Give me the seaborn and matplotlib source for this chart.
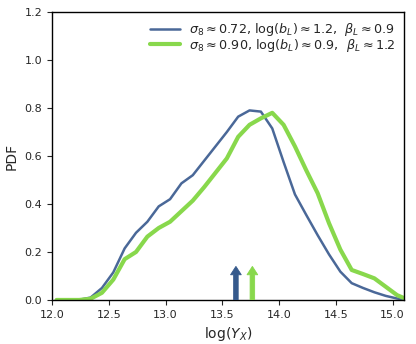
import numpy as np
import pandas as pd
import matplotlib.pyplot as plt
import seaborn as sns

# bin centres of log(Y_X)
log_yx = [12.04, 12.14, 12.24, 12.34, 12.44, 12.54, 12.64, 12.74, 12.84, 12.94,
          13.04, 13.14, 13.24, 13.34, 13.44, 13.54, 13.64, 13.74, 13.84, 13.94,
          14.04, 14.14, 14.24, 14.34, 14.44, 14.54, 14.64, 14.74, 14.84, 14.94,
          15.04, 15.14]

pdf_a = [0.0, 0.0, 0.001, 0.01, 0.05, 0.115, 0.215, 0.28, 0.326, 0.39,
         0.42, 0.486, 0.52, 0.58, 0.64, 0.70, 0.764, 0.79, 0.785, 0.715,
         0.575, 0.44, 0.354, 0.27, 0.19, 0.118, 0.07, 0.05, 0.032, 0.017,
         0.006, 0.0]

pdf_b = [0.0, 0.0, 0.0, 0.005, 0.03, 0.085, 0.17, 0.20, 0.264, 0.30,
         0.326, 0.37, 0.414, 0.47, 0.53, 0.59, 0.68, 0.73, 0.757, 0.78,
         0.73, 0.64, 0.54, 0.445, 0.32, 0.21, 0.125, 0.108, 0.09, 0.055,
         0.02, 0.0]

labels = [r"$\sigma_8 \approx 0.72$, $\log(b_L) \approx 1.2$,  $\beta_L \approx 0.9$",
          r"$\sigma_8 \approx 0.90$, $\log(b_L) \approx 0.9$,  $\beta_L \approx 1.2$"]

# means marked with arrows
arrow_x = [13.62, 13.765]
arrow_len = 0.14

line_colors = ["#4a6898", "#88d84c"]
arrow_colors = ["#365a8c", "#88d84c"]

sns.set_style("ticks")
plt.rcParams["font.family"] = ["DejaVu Sans"]

df = pd.DataFrame({
    "log_yx": log_yx * 2,
    "pdf": pdf_a + pdf_b,
    "model": [labels[0]] * len(log_yx) + [labels[1]] * len(log_yx),
})

fig = plt.figure(figsize=(4.16, 3.44), dpi=100)
ax = fig.add_axes([0.125, 0.128, 0.846, 0.837])

sns.lineplot(data=df, x="log_yx", y="pdf", hue="model", palette=line_colors,
             size="model", sizes=[1.8, 3.0], ax=ax)

for x, c in zip(arrow_x, arrow_colors):
    ax.arrow(x, 0, 0, arrow_len, width=0.04, head_width=0.095,
             head_length=0.035, length_includes_head=True,
             facecolor=c, edgecolor=c, linewidth=0.6, zorder=3)

ax.set_xlim(12.0, 15.1)
ax.set_ylim(0, 1.2)
ax.set_xticks([12.0, 12.5, 13.0, 13.5, 14.0, 14.5, 15.0])
ax.set_yticks([0.0, 0.2, 0.4, 0.6, 0.8, 1.0, 1.2])
ax.tick_params(labelsize=8, length=3.5, width=0.8)
ax.set_xlabel(r"$\log(Y_X)$", fontsize=10)
ax.set_ylabel("PDF", fontsize=10)
for s in ax.spines.values():
    s.set_linewidth(1.0)
    s.set_color("black")

ax.legend(frameon=False, loc="upper right", fontsize=9.2, handlelength=2.3,
          labelspacing=-0.08, handletextpad=0.7, borderaxespad=0.3)

fig.savefig("out.png", dpi=100)
